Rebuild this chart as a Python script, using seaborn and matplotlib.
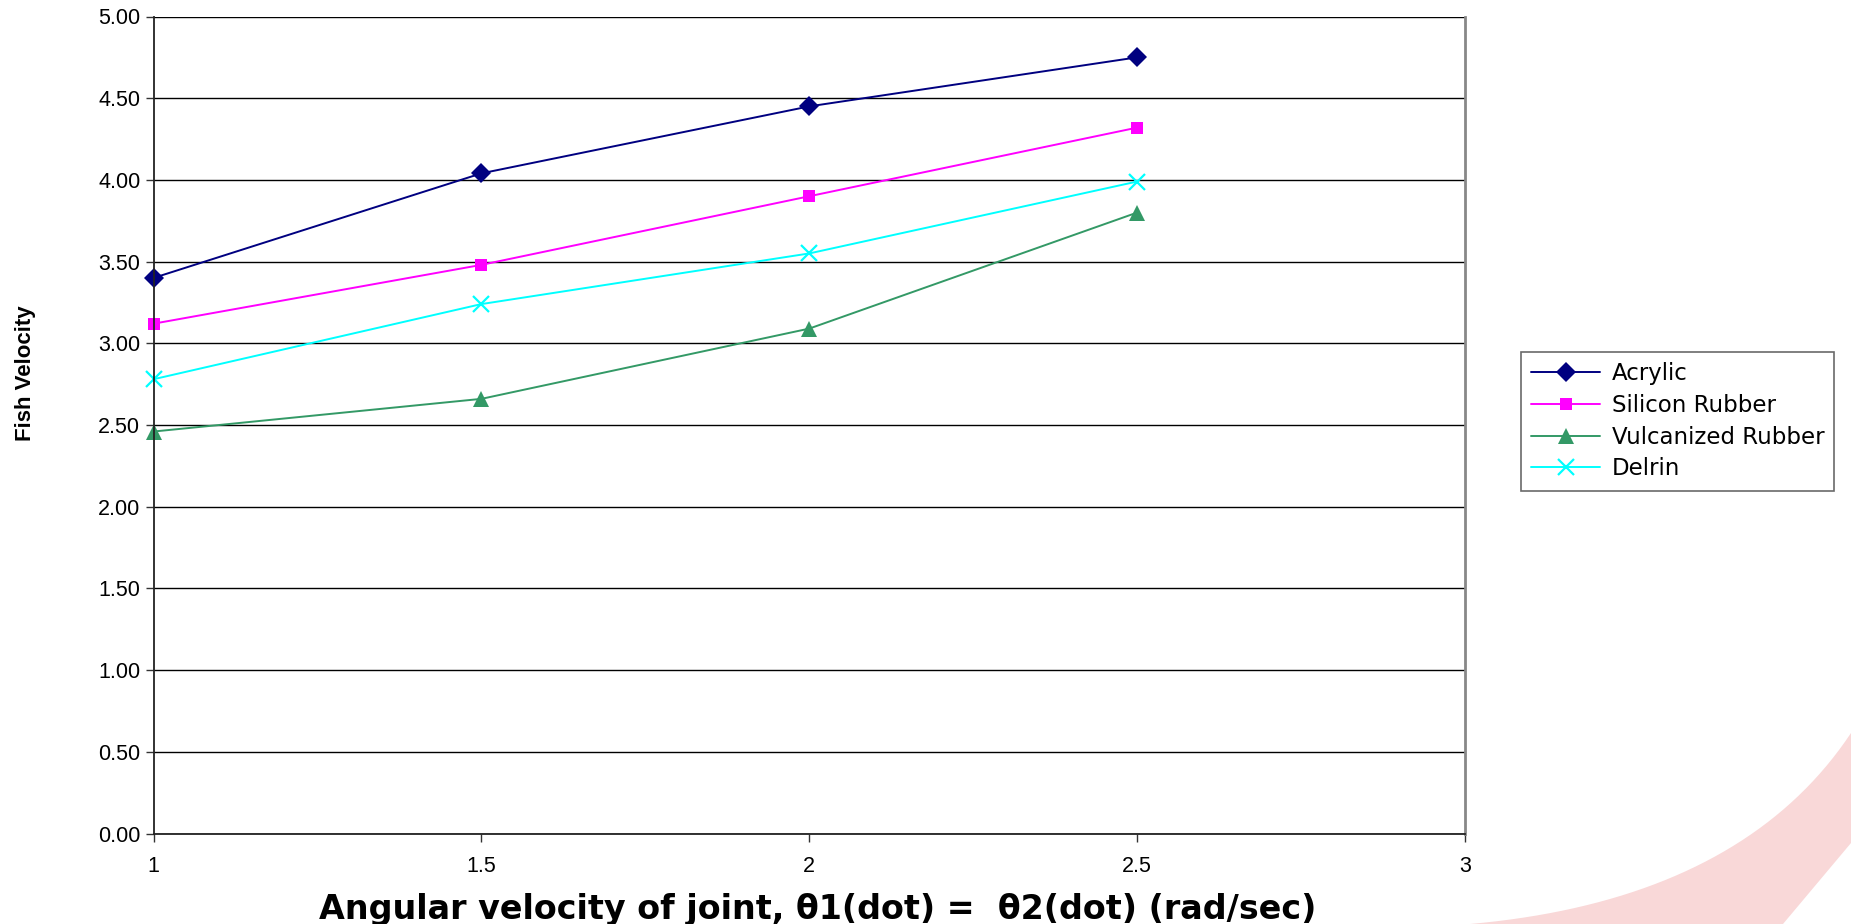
import numpy as np
import matplotlib.pyplot as plt
import seaborn as sns
from matplotlib.patches import Polygon

# data
omega = [1.0, 1.5, 2.0, 2.5]
acrylic = [3.40, 4.04, 4.45, 4.75]
silicon = [3.12, 3.48, 3.90, 4.32]
vulcanized = [2.46, 2.66, 3.09, 3.80]
delrin = [2.78, 3.24, 3.55, 3.99]
materials = ["Acrylic", "Silicon Rubber", "Vulcanized Rubber", "Delrin"]
yticks = [0, 0.5, 1.0, 1.5, 2.0, 2.5, 3.0, 3.5, 4.0, 4.5, 5.0]
xticks = [1, 1.5, 2, 2.5, 3]

series = [acrylic, silicon, vulcanized, delrin]
colors = ["#000080", "#FF00FF", "#339966", "#00FFFF"]
marks = [dict(marker="D", markersize=10, markeredgewidth=0),
         dict(marker="s", markersize=9, markeredgewidth=0),
         dict(marker="^", markersize=11, markeredgewidth=0),
         dict(marker="x", markersize=11, markeredgewidth=1.6)]

sns.set_style("white")
plt.rcParams['font.family'] = ['Liberation Sans', 'DejaVu Sans']
plt.rcParams['text.color'] = 'black'
plt.rcParams['xtick.color'] = 'black'
plt.rcParams['ytick.color'] = 'black'

fig = plt.figure(figsize=(18.51, 9.24), dpi=100)

# faint pink swoosh in the lower right corner (decoration, pixel coords from top-left)
t = np.linspace(0, 1, 40)
p0, p1, p2 = np.array([1851, 733]), np.array([1740, 900]), np.array([1470, 924])
inner = (1 - t)[:, None] ** 2 * p0 + 2 * ((1 - t) * t)[:, None] * p1 + (t ** 2)[:, None] * p2
edge = np.vstack([inner, [[1783, 924], [1851, 843]]])
edge[:, 1] = 924 - edge[:, 1]
fig.patches.append(Polygon(edge, closed=True, transform=None,
                           facecolor="#F9D8D8", edgecolor="none", zorder=0))

ax = fig.add_axes([153.5 / 1851, 1 - 833.5 / 924, (1465 - 153.5) / 1851, (833.5 - 16.5) / 924])

for name, vals, c, m in zip(materials, series, colors, marks):
    sns.lineplot(x=omega, y=vals, color=c, label=name, linewidth=1.4,
                 markeredgecolor=c, clip_on=False, ax=ax, **m)

ax.set_xlim(1, 3)
ax.set_ylim(0, 5)
ax.set_xticks(xticks)
ax.set_xticklabels(["1", "1.5", "2", "2.5", "3"])
ax.set_yticks(yticks)
ax.set_yticklabels([f"{v:.2f}" for v in yticks])
ax.tick_params(axis="both", labelsize=15.5, direction="out", length=6, width=1,
               color="#333333", labelcolor="black", bottom=True, left=True)
ax.tick_params(axis="x", pad=10)
ax.yaxis.grid(True, color="black", linewidth=1)
ax.set_axisbelow(True)
for s in ["left", "bottom"]:
    ax.spines[s].set_color("#222222")
    ax.spines[s].set_linewidth(1.3)
ax.spines["right"].set_color("#888888")
ax.spines["right"].set_linewidth(2)
ax.spines["top"].set_visible(False)
ax.set_xlabel("")
ax.set_ylabel("")

fig.text(818 / 1851, 1 - 910 / 924, "Angular velocity of joint, θ1(dot) =  θ2(dot) (rad/sec)",
         fontsize=24, fontweight="bold", ha="center", va="center", color="black",
         family=['DejaVu Sans'])
fig.text(26 / 1851, 1 - 373 / 924, "Fish Velocity", fontsize=16, fontweight="bold",
         rotation=90, ha="center", va="center", color="black",
         family=['Liberation Sans Narrow', 'Liberation Sans'])

leg = ax.legend(loc="upper left", bbox_to_anchor=(1521 / 1851, 1 - 352 / 924),
                bbox_transform=fig.transFigure, frameon=True, fancybox=False,
                prop={"family": "DejaVu Sans", "size": 16.5},
                edgecolor="#444444", handlelength=3.0, borderpad=0.45, labelspacing=0.38,
                handletextpad=0.5, borderaxespad=0)
leg.get_frame().set_linewidth(1.2)
for txt in leg.get_texts():
    txt.set_color("black")

fig.savefig("out.png", dpi=100)
